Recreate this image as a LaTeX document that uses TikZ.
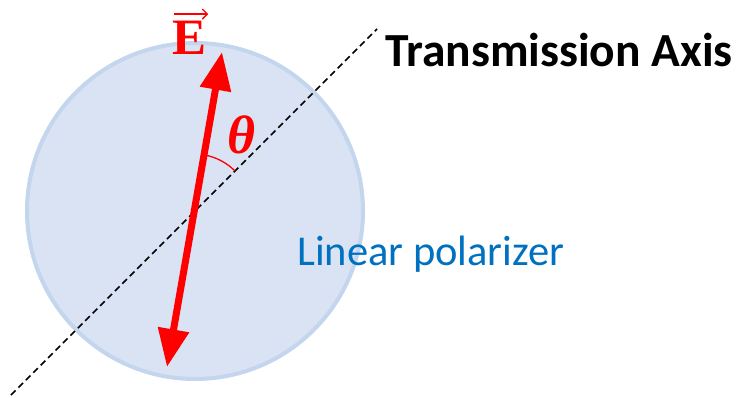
\documentclass[tikz,border=0pt]{standalone}
\usepackage{fontspec}
\setmainfont{Liberation Serif}
\newfontfamily\calibrifont{Carlito}
\usetikzlibrary{arrows.meta}
\definecolor{discfill}{HTML}{DAE3F3}
\definecolor{discedge}{HTML}{C3D6EE}
\definecolor{pblue}{HTML}{0070C0}
\definecolor{vred}{HTML}{FF0000}
\begin{document}
\begin{tikzpicture}[x=1pt,y=-1pt,
  disc/.style={circle,fill=discfill,draw=discedge,line width=4pt,minimum size=336pt,inner sep=0pt},
  axisline/.style={black,line width=1.6pt,dash pattern=on 6.5pt off 4pt},
  evec/.style={vred,line width=7pt,{Triangle[length=38pt,width=30pt]}-{Triangle[length=38pt,width=30pt]}},
  anglearc/.style={vred,line width=1.3pt},
  redlabel/.style={text=vred,inner sep=0pt},
  biglabel/.style={font=\calibrifont\fontsize{47.5}{47.5}\selectfont\bfseries,inner sep=0pt,anchor=base west},
  bluelabel/.style={text=pblue,font=\calibrifont\fontsize{42.5}{42.5}\selectfont,inner sep=0pt,anchor=base west}]
\useasboundingbox (0,0) rectangle (736,398);
\node[disc] (disc) at (195,211) {};
\coordinate (axA) at (11,395);
\coordinate (axB) at (377,29);
\draw[axisline] (axA) -- (axB);
\coordinate (O) at (194,212);
\coordinate (Etop) at (222,52);
\coordinate (Ebot) at (167,367);
\draw[evec] (Ebot) -- (Etop);
\draw[anglearc] ([shift={(-80:58)}]O) arc[start angle=-80,end angle=-45,radius=58];
\node[redlabel,font=\fontsize{54}{54}\selectfont\bfseries\itshape] (theta) at (242,135) {θ};
\node[redlabel,font=\fontsize{51}{51}\selectfont\bfseries] (E) at (190,38) {E};
\draw[vred,line width=1.3pt,-{Straight Barb[length=5pt,width=10pt]}] ([xshift=1pt,yshift=7pt]E.north west) -- ([xshift=1pt,yshift=7pt]E.north east);
\node[biglabel] (ta) at (385,67) {Transmission Axis};
\node[bluelabel] (lp) at (297,265) {Linear polarizer};
\end{tikzpicture}
\end{document}
